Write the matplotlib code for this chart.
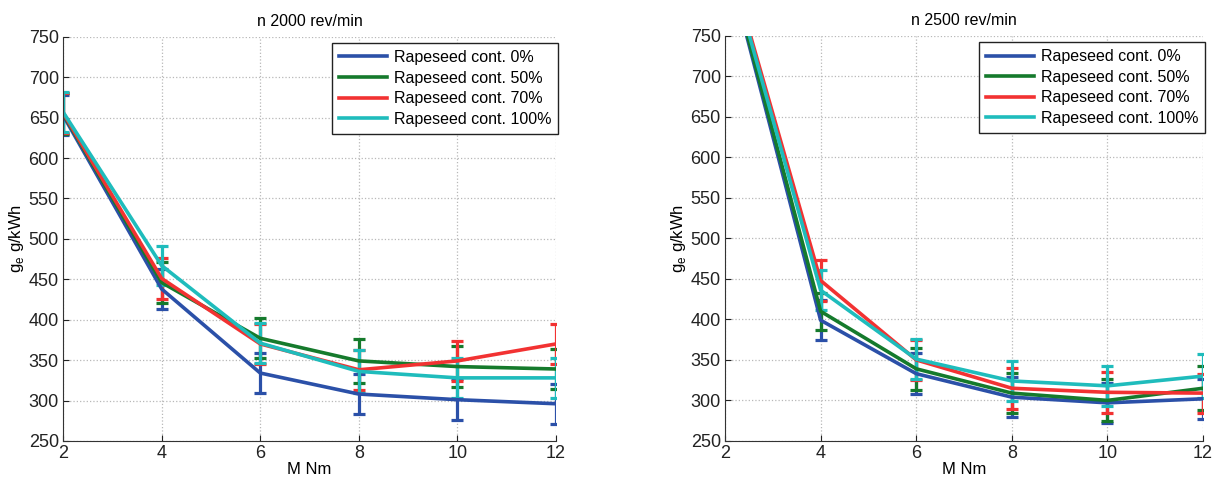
import matplotlib
matplotlib.use("Agg")
import matplotlib.pyplot as plt
from matplotlib.lines import Line2D

plt.rcParams['font.family'] = ['Liberation Sans', 'DejaVu Sans']

torque = [2, 4, 6, 8, 10, 12]
series_labels = ["Rapeseed cont. 0%", "Rapeseed cont. 50%",
                 "Rapeseed cont. 70%", "Rapeseed cont. 100%"]
series_colors = ["#2b50a8", "#157a2c", "#f23232", "#1fbcbc"]

# Specific fuel consumption at 2000 rev/min (g/kWh)
ge_2000_0 = [653, 438, 334, 308, 301, 296]
ge_2000_50 = [655, 446, 377, 349, 342, 339]
ge_2000_70 = [656, 451, 370, 338, 349, 370]
ge_2000_100 = [657, 467, 371, 336, 328, 328]
err_2000_0 = [25, 25, 25, 25, 25, 25]
err_2000_50 = [25, 25, 25, 27, 25, 25]
err_2000_70 = [25, 25, 25, 25, 25, 25]
err_2000_100 = [25, 24, 25, 27, 25, 25]

# Specific fuel consumption at 2500 rev/min (g/kWh)
ge_2500_0 = [853, 399, 333, 304, 297, 302]
ge_2500_50 = [855, 410, 339, 309, 300, 315]
ge_2500_70 = [860, 448, 350, 315, 310, 309]
ge_2500_100 = [858, 436, 351, 324, 318, 330]
err_2500_0 = [25, 25, 25, 25, 25, 25]
err_2500_50 = [25, 23, 26, 25, 26, 27]
err_2500_70 = [25, 25, 25, 25, 25, 24]
err_2500_100 = [25, 25, 25, 25, 25, 27]

panels = [
    ("n 2000 rev/min", [ge_2000_0, ge_2000_50, ge_2000_70, ge_2000_100],
     [err_2000_0, err_2000_50, err_2000_70, err_2000_100]),
    ("n 2500 rev/min", [ge_2500_0, ge_2500_50, ge_2500_70, ge_2500_100],
     [err_2500_0, err_2500_50, err_2500_70, err_2500_100]),
]

fig = plt.figure(figsize=(12.22, 4.91), dpi=100)
axes_rects = [[0.0516, 0.102, 0.4034, 0.823],
              [0.5933, 0.102, 0.3912, 0.825]]

for rect, (title, values, errors) in zip(axes_rects, panels):
    ax = fig.add_axes(rect)
    for vals, errs, col in zip(values, errors, series_colors):
        ax.errorbar(torque, vals, yerr=errs, color=col, lw=2.6,
                    elinewidth=2.3, capsize=4.5, capthick=2.3)
    ax.set_xlim(2, 12)
    ax.set_ylim(250, 750)
    ax.set_xticks([2, 4, 6, 8, 10, 12])
    ax.set_yticks(range(250, 751, 50))
    ax.grid(True, linestyle=':', color='#b8b8b8', lw=0.9)
    ax.set_axisbelow(True)
    for s in ("top", "right"):
        ax.spines[s].set_visible(False)
    ax.spines["left"].set_color("#333333")
    ax.spines["bottom"].set_color("#333333")
    ax.tick_params(direction='in', length=4, labelsize=13, pad=3, colors='#222222')
    ax.set_title(title, fontsize=11.5, pad=8)
    ax.set_xlabel("M Nm", fontsize=12, labelpad=0)
    ax.set_ylabel(r"g$_\mathregular{e}$ g/kWh", fontsize=12, labelpad=2)
    handles = [Line2D([], [], color=c, lw=2.6) for c in series_colors]
    leg = ax.legend(handles, series_labels, loc='upper right',
                    bbox_to_anchor=(1.005, 0.985),
                    fontsize=11.5, handlelength=3.0, labelspacing=0.35,
                    handletextpad=0.4, borderpad=0.45, fancybox=False,
                    framealpha=1, edgecolor='#222222', borderaxespad=0.0)
    leg.get_frame().set_linewidth(1.0)

fig.savefig("out.png", dpi=100)
